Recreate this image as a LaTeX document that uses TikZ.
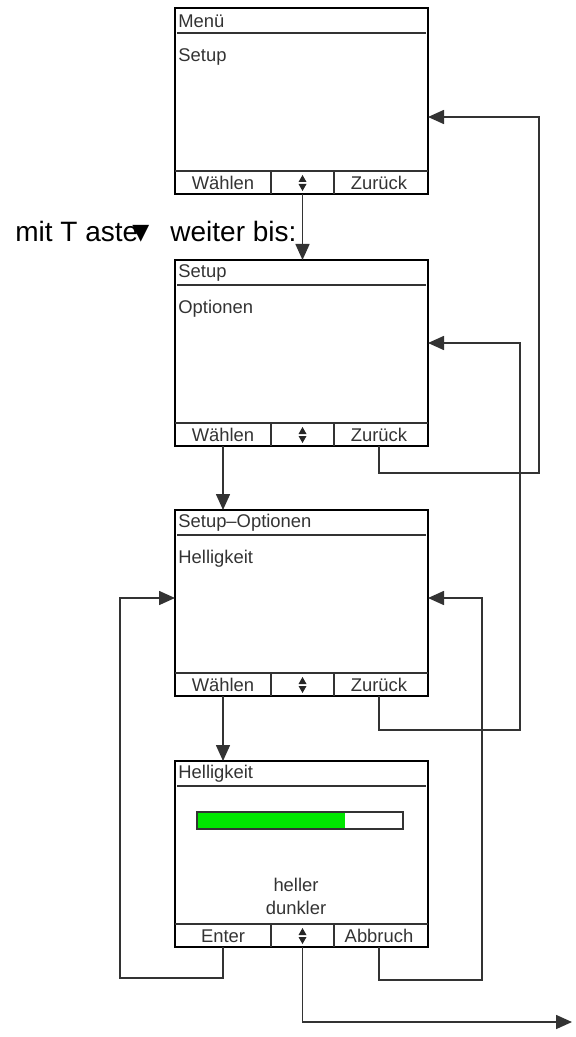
\documentclass[tikz,border=0pt]{standalone}
\usepackage{fontspec}
\setmainfont{Liberation Sans}
\newfontfamily\symfont{DejaVu Sans}
\usetikzlibrary{arrows.meta,calc,positioning}
\definecolor{bargreen}{RGB}{0,230,0}
\tikzset{
    lcdframe/.style={draw=black, line width=1.1pt, minimum width=126.5pt,
        minimum height=93pt, inner sep=0pt, outer sep=0pt},
    lcdline/.style={draw=black!80, line width=0.75pt},
    lcdtext/.style={text=black!80, inner sep=0pt,
        font=\fontsize{9.2}{10}\selectfont},
    hint/.style={text=black, inner sep=0pt,
        font=\fontsize{14}{16}\selectfont},
    wire/.style={draw=black!80, line width=0.8pt},
    wirearrow/.style={wire, -{Triangle[length=8pt,width=7pt]}},
}

\begin{document}
\begin{tikzpicture}[x=0.5pt,y=-0.5pt]
    \useasboundingbox (0,0) rectangle (576,1037);

    % Draw the four screens.
    \foreach \n/\t/\title/\body/\ka/\kb in {1/8/Menü/Setup/Wählen/Zurück,
        2/260/Setup/Optionen/Wählen/Zurück,
        3/510/Setup–Optionen/Helligkeit/Wählen/Zurück,
        4/761/Helligkeit/{}/Enter/Abbruch} {
        \node[lcdframe] (s\n) at (301.5,\t+93) {};
        \draw[lcdline] (177,\t+25) -- (426,\t+25);
        \draw[lcdline] (175,\t+163) -- (428,\t+163);
        \draw[lcdline] (271,\t+163) -- (271,\t+186);
        \draw[lcdline] (334,\t+163) -- (334,\t+186);
        \node[lcdtext, anchor=west] (t\n) at (178,\t+13) {\title};
        \node[lcdtext, anchor=west] (b\n) at (178,\t+49) {\body};
        \node[lcdtext] (w\n) at (223,\t+175) {\ka};
        \node[lcdtext] (z\n) at (379,\t+175) {\kb};
        % up/down key
        \coordinate (u\n) at (302.5,\t+175);
        \fill[black!85] (u\n) ++(-4,-1) -- ++(8,0) -- ++(-4,-7) -- cycle;
        \fill[black!85] (u\n) ++(-4,1) -- ++(8,0) -- ++(-4,7) -- cycle;
    }

    % Draw the brightness bar.
    \fill[bargreen] (197,812) rectangle (345,829);
    \draw[lcdline] (197,812) rectangle (403,829);
    \node[lcdtext] (hell) at (296,885) {heller};
    \node[lcdtext] (dunk) at (296,908) {dunkler};

    % Hint text.
    \node[hint, anchor=base west] (hinta) at (15,242) {mit T aste};
    \node[hint, anchor=base west, font=\symfont\fontsize{11}{12}\selectfont]
        (hintb) at (132,240) {▼};
    \node[hint, anchor=base west] (hintc) at (170,242) {weiter bis:};

    % Forward arrows.
    \draw[wirearrow] (u1 |- s1.south) -- (u1 |- s2.north);
    \draw[wirearrow] (w2 |- s2.south) -- (w2 |- s3.north);
    \draw[wirearrow] (w3 |- s3.south) -- (w3 |- s4.north);

    % Back loops.
    \coordinate (k1) at (539,473);
    \coordinate (k1t) at (539,117);
    \draw[wirearrow] (z2 |- s2.south) |- (k1) -- (k1t) -- (s1.east |- k1t);
    \coordinate (k2) at (520,730);
    \coordinate (k2t) at (520,343);
    \draw[wirearrow] (z3 |- s3.south) |- (k2) -- (k2t) -- (s2.east |- k2t);
    \coordinate (k3) at (120,978);
    \coordinate (k3t) at (120,598);
    \draw[wirearrow] (w4 |- s4.south) |- (k3) -- (k3t) -- (s3.west |- k3t);
    \coordinate (k4) at (482,980);
    \coordinate (k4t) at (482,598);
    \draw[wirearrow] (z4 |- s4.south) |- (k4) -- (k4t) -- (s3.east |- k4t);

    % Exit arrow.
    \coordinate (exit) at (572,1022);
    \draw[wirearrow] (u4 |- s4.south) |- (exit);
\end{tikzpicture}
\end{document}
